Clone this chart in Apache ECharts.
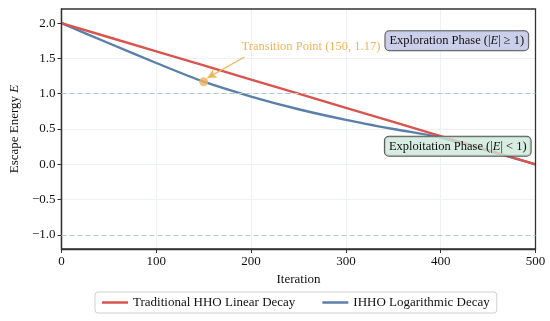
<!DOCTYPE html>
<html><head><meta charset="utf-8">
<script src="https://cdn.jsdelivr.net/npm/echarts@6/dist/echarts.min.js"></script>
<style>html,body{margin:0;padding:0;background:#fff}#c{width:550px;height:321px}</style>
</head><body><div id="c"></div>
<script>
const iterations = [0, 50, 100, 150, 200, 250, 300, 350, 400, 450, 500];
const linearDecay = [2.0, 1.8, 1.6, 1.4, 1.2, 1.0, 0.8, 0.6, 0.4, 0.2, 0.0];
const logDecay = [2.0, 1.715, 1.435, 1.17, 0.96, 0.78, 0.63, 0.50, 0.38, 0.19, 0.0];
const transition = [150, 1.17];
const xTicks = [0, 100, 200, 300, 400, 500];
const yTicks = [-1.0, -0.5, 0.0, 0.5, 1.0, 1.5, 2.0];
const seriesNames = ['Traditional HHO Linear Decay', 'IHHO Logarithmic Decay'];

const FONT = 'Liberation Serif';
const RED = '#d9534f', BLUE = '#5b7fa8', ORANGE = '#f0b45c';
const chart = echarts.init(document.getElementById('c'));
const fmt = v => (v < 0 ? '\u2212' : '') + Math.abs(v).toFixed(1);
const isTick = v => yTicks.some(t => Math.abs(t - v) < 1e-6);

chart.setOption({
  backgroundColor: '#fff',
  animation: false,
  grid: {left: 59.5, right: 14.5, top: 9, bottom: 72, show: true, borderColor: '#333', borderWidth: 1.3, z: 4},
  xAxis: {
    type: 'value', min: 0, max: 500, interval: 100,
    name: 'Iteration', nameLocation: 'middle', nameGap: 24,
    nameTextStyle: {fontFamily: FONT, fontSize: 13, color: '#111'},
    axisLine: {show: true, onZero: false, lineStyle: {color: '#333', width: 1.3}},
    axisTick: {show: true, length: 4, lineStyle: {color: '#333'}},
    axisLabel: {fontFamily: FONT, fontSize: 13, color: '#111', margin: 6,
      formatter: v => xTicks.includes(v) ? String(v) : ''},
    splitLine: {show: true, showMinLine: false, showMaxLine: false, lineStyle: {color: '#edf1f5', width: 1}}
  },
  yAxis: {
    type: 'value', min: -1.2, max: 2.2, splitNumber: 7,
    axisLabel: {fontFamily: FONT, fontSize: 13, color: '#111', margin: 6,
      formatter: v => isTick(v) ? fmt(v) : ''},
    axisTick: {show: true, length: 4, lineStyle: {color: '#333'}, customValues: yTicks},
    name: 'Escape Energy {i|E}', nameLocation: 'middle', nameGap: 38,
    nameTextStyle: {fontFamily: FONT, fontSize: 13, color: '#111',
      rich: {i: {fontFamily: FONT, fontSize: 13, fontStyle: 'italic', color: '#111'}}},
    axisLine: {show: true, onZero: false, lineStyle: {color: '#333', width: 1.3}},
    splitLine: {show: true, showMinLine: false, showMaxLine: false, lineStyle: {color: '#edf1f5', width: 1}}
  },
  legend: {
    data: seriesNames, bottom: 8, left: 95,
    icon: 'rect', itemWidth: 26, itemHeight: 2.5, itemGap: 27,
    borderColor: '#d0d0d0', borderWidth: 1, borderRadius: 3, padding: [4, 7],
    textStyle: {fontFamily: FONT, fontSize: 13, color: '#111'}
  },
  series: [
    {
      name: seriesNames[0], type: 'line', symbol: 'none', z: 3,
      data: iterations.map((t, i) => [t, linearDecay[i]]),
      lineStyle: {color: RED, width: 2.4}, itemStyle: {color: RED},
      markLine: {
        silent: true, symbol: 'none', label: {show: false},
        lineStyle: {color: '#b5c9d0', type: [5, 3], width: 1},
        data: [{yAxis: 1.0}, {yAxis: -1.0}]
      }
    },
    {
      name: seriesNames[1], type: 'line', symbol: 'none', smooth: 0.3, z: 2,
      data: iterations.map((t, i) => [t, logDecay[i]]),
      lineStyle: {color: BLUE, width: 2.4}, itemStyle: {color: BLUE}
    },
    {
      name: 'transition', type: 'scatter', symbolSize: 9, z: 5,
      data: [transition], itemStyle: {color: ORANGE},
      markLine: {
        silent: true, symbol: ['none', 'arrow'], symbolSize: [7, 9],
        label: {show: false},
        lineStyle: {color: ORANGE, type: 'solid', width: 1.3, curveness: 0.08},
        data: [[{coord: [193, 1.52]}, {coord: [154, 1.225]}]]
      }
    }
  ]
});

function place() {
  const p1 = chart.convertToPixel({gridIndex: 0}, [190, 1.665]);
  const p2 = chart.convertToPixel({gridIndex: 0}, [417, 1.75]);
  const p3 = chart.convertToPixel({gridIndex: 0}, [418, 0.255]);
  const boxText = (x, y, str, fill) => ({
    type: 'text', x: x, y: y, z: 10,
    style: {
      text: str, fontFamily: FONT, fontSize: 12.5, fill: '#111',
      align: 'center', verticalAlign: 'middle',
      backgroundColor: fill, borderColor: '#555', borderWidth: 1, borderRadius: 4,
      padding: [3, 4, 3, 4],
      rich: {i: {fontFamily: FONT, fontSize: 12.5, fontStyle: 'italic', fill: '#111'}}
    }
  });
  chart.setOption({graphic: [
    {type: 'text', x: p1[0], y: p1[1], z: 10,
     style: {text: 'Transition Point (150, 1.17)', fontFamily: FONT, fontSize: 12.5,
       fill: ORANGE, align: 'left', verticalAlign: 'middle'}},
    boxText(p2[0], p2[1], 'Exploration Phase (|{i|E}| \u2265 1)', 'rgba(200,204,232,0.95)'),
    boxText(p3[0], p3[1], 'Exploitation Phase (|{i|E}| < 1)', 'rgba(205,232,218,0.8)')
  ]});
}
place();
</script></body></html>
